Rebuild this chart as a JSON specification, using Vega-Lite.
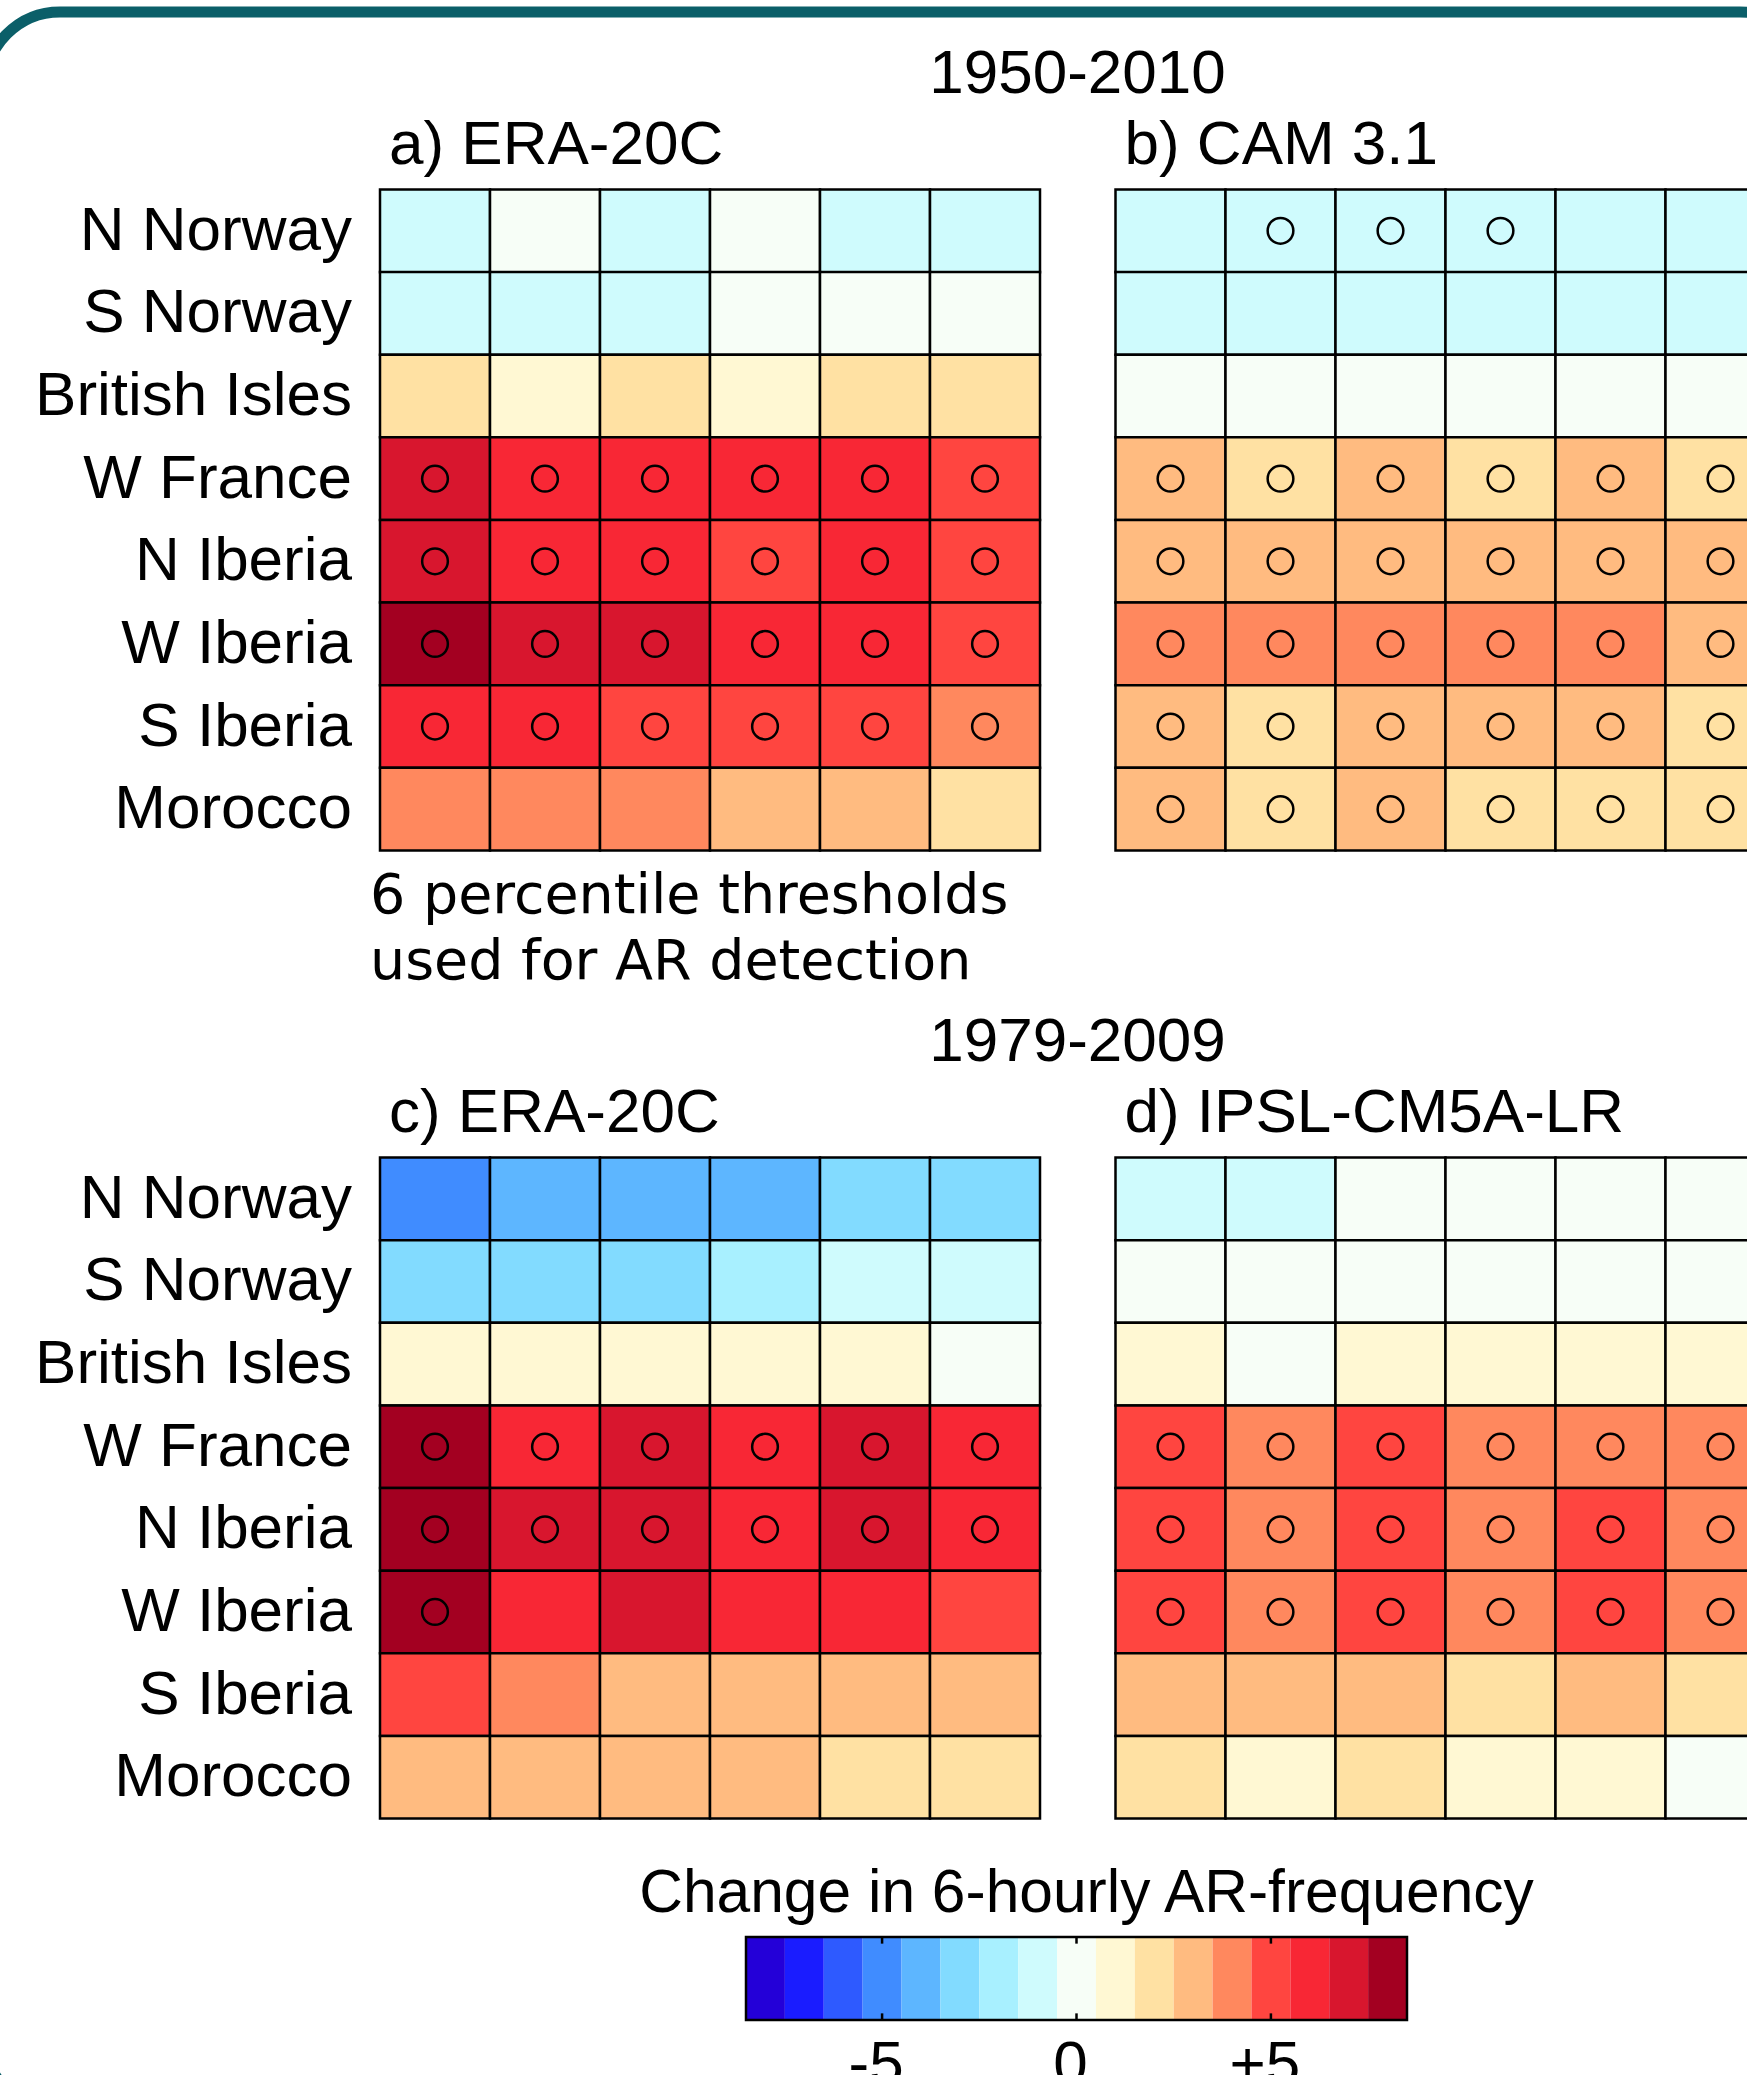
{
  "$schema": "https://vega.github.io/schema/vega-lite/v6.json",
  "width": 1830,
  "height": 2100,
  "autosize": {"type": "none"},
  "padding": {"left": -15, "top": 12, "right": -68, "bottom": -37},
  "background": "white",
  "config": {
    "view": {"stroke": "#0b5f69", "strokeWidth": 11, "cornerRadius": 75, "fill": "white"},
    "font": "Liberation Sans"
  },
  "datasets": {
    "cells": [
      {"period":"1950-2010","source":"reanalysis","region":"N Norway","threshold":1,"value":-1,"sig":false},
      {"period":"1950-2010","source":"reanalysis","region":"N Norway","threshold":2,"value":0,"sig":false},
      {"period":"1950-2010","source":"reanalysis","region":"N Norway","threshold":3,"value":-1,"sig":false},
      {"period":"1950-2010","source":"reanalysis","region":"N Norway","threshold":4,"value":0,"sig":false},
      {"period":"1950-2010","source":"reanalysis","region":"N Norway","threshold":5,"value":-1,"sig":false},
      {"period":"1950-2010","source":"reanalysis","region":"N Norway","threshold":6,"value":-1,"sig":false},
      {"period":"1950-2010","source":"reanalysis","region":"S Norway","threshold":1,"value":-1,"sig":false},
      {"period":"1950-2010","source":"reanalysis","region":"S Norway","threshold":2,"value":-1,"sig":false},
      {"period":"1950-2010","source":"reanalysis","region":"S Norway","threshold":3,"value":-1,"sig":false},
      {"period":"1950-2010","source":"reanalysis","region":"S Norway","threshold":4,"value":0,"sig":false},
      {"period":"1950-2010","source":"reanalysis","region":"S Norway","threshold":5,"value":0,"sig":false},
      {"period":"1950-2010","source":"reanalysis","region":"S Norway","threshold":6,"value":0,"sig":false},
      {"period":"1950-2010","source":"reanalysis","region":"British Isles","threshold":1,"value":2,"sig":false},
      {"period":"1950-2010","source":"reanalysis","region":"British Isles","threshold":2,"value":1,"sig":false},
      {"period":"1950-2010","source":"reanalysis","region":"British Isles","threshold":3,"value":2,"sig":false},
      {"period":"1950-2010","source":"reanalysis","region":"British Isles","threshold":4,"value":1,"sig":false},
      {"period":"1950-2010","source":"reanalysis","region":"British Isles","threshold":5,"value":2,"sig":false},
      {"period":"1950-2010","source":"reanalysis","region":"British Isles","threshold":6,"value":2,"sig":false},
      {"period":"1950-2010","source":"reanalysis","region":"W France","threshold":1,"value":7,"sig":true},
      {"period":"1950-2010","source":"reanalysis","region":"W France","threshold":2,"value":6,"sig":true},
      {"period":"1950-2010","source":"reanalysis","region":"W France","threshold":3,"value":6,"sig":true},
      {"period":"1950-2010","source":"reanalysis","region":"W France","threshold":4,"value":6,"sig":true},
      {"period":"1950-2010","source":"reanalysis","region":"W France","threshold":5,"value":6,"sig":true},
      {"period":"1950-2010","source":"reanalysis","region":"W France","threshold":6,"value":5,"sig":true},
      {"period":"1950-2010","source":"reanalysis","region":"N Iberia","threshold":1,"value":7,"sig":true},
      {"period":"1950-2010","source":"reanalysis","region":"N Iberia","threshold":2,"value":6,"sig":true},
      {"period":"1950-2010","source":"reanalysis","region":"N Iberia","threshold":3,"value":6,"sig":true},
      {"period":"1950-2010","source":"reanalysis","region":"N Iberia","threshold":4,"value":5,"sig":true},
      {"period":"1950-2010","source":"reanalysis","region":"N Iberia","threshold":5,"value":6,"sig":true},
      {"period":"1950-2010","source":"reanalysis","region":"N Iberia","threshold":6,"value":5,"sig":true},
      {"period":"1950-2010","source":"reanalysis","region":"W Iberia","threshold":1,"value":8,"sig":true},
      {"period":"1950-2010","source":"reanalysis","region":"W Iberia","threshold":2,"value":7,"sig":true},
      {"period":"1950-2010","source":"reanalysis","region":"W Iberia","threshold":3,"value":7,"sig":true},
      {"period":"1950-2010","source":"reanalysis","region":"W Iberia","threshold":4,"value":6,"sig":true},
      {"period":"1950-2010","source":"reanalysis","region":"W Iberia","threshold":5,"value":6,"sig":true},
      {"period":"1950-2010","source":"reanalysis","region":"W Iberia","threshold":6,"value":5,"sig":true},
      {"period":"1950-2010","source":"reanalysis","region":"S Iberia","threshold":1,"value":6,"sig":true},
      {"period":"1950-2010","source":"reanalysis","region":"S Iberia","threshold":2,"value":6,"sig":true},
      {"period":"1950-2010","source":"reanalysis","region":"S Iberia","threshold":3,"value":5,"sig":true},
      {"period":"1950-2010","source":"reanalysis","region":"S Iberia","threshold":4,"value":5,"sig":true},
      {"period":"1950-2010","source":"reanalysis","region":"S Iberia","threshold":5,"value":5,"sig":true},
      {"period":"1950-2010","source":"reanalysis","region":"S Iberia","threshold":6,"value":4,"sig":true},
      {"period":"1950-2010","source":"reanalysis","region":"Morocco","threshold":1,"value":4,"sig":false},
      {"period":"1950-2010","source":"reanalysis","region":"Morocco","threshold":2,"value":4,"sig":false},
      {"period":"1950-2010","source":"reanalysis","region":"Morocco","threshold":3,"value":4,"sig":false},
      {"period":"1950-2010","source":"reanalysis","region":"Morocco","threshold":4,"value":3,"sig":false},
      {"period":"1950-2010","source":"reanalysis","region":"Morocco","threshold":5,"value":3,"sig":false},
      {"period":"1950-2010","source":"reanalysis","region":"Morocco","threshold":6,"value":2,"sig":false},

      {"period":"1950-2010","source":"model","region":"N Norway","threshold":1,"value":-1,"sig":false},
      {"period":"1950-2010","source":"model","region":"N Norway","threshold":2,"value":-1,"sig":true},
      {"period":"1950-2010","source":"model","region":"N Norway","threshold":3,"value":-1,"sig":true},
      {"period":"1950-2010","source":"model","region":"N Norway","threshold":4,"value":-1,"sig":true},
      {"period":"1950-2010","source":"model","region":"N Norway","threshold":5,"value":-1,"sig":false},
      {"period":"1950-2010","source":"model","region":"N Norway","threshold":6,"value":-1,"sig":false},
      {"period":"1950-2010","source":"model","region":"S Norway","threshold":1,"value":-1,"sig":false},
      {"period":"1950-2010","source":"model","region":"S Norway","threshold":2,"value":-1,"sig":false},
      {"period":"1950-2010","source":"model","region":"S Norway","threshold":3,"value":-1,"sig":false},
      {"period":"1950-2010","source":"model","region":"S Norway","threshold":4,"value":-1,"sig":false},
      {"period":"1950-2010","source":"model","region":"S Norway","threshold":5,"value":-1,"sig":false},
      {"period":"1950-2010","source":"model","region":"S Norway","threshold":6,"value":-1,"sig":false},
      {"period":"1950-2010","source":"model","region":"British Isles","threshold":1,"value":0,"sig":false},
      {"period":"1950-2010","source":"model","region":"British Isles","threshold":2,"value":0,"sig":false},
      {"period":"1950-2010","source":"model","region":"British Isles","threshold":3,"value":0,"sig":false},
      {"period":"1950-2010","source":"model","region":"British Isles","threshold":4,"value":0,"sig":false},
      {"period":"1950-2010","source":"model","region":"British Isles","threshold":5,"value":0,"sig":false},
      {"period":"1950-2010","source":"model","region":"British Isles","threshold":6,"value":0,"sig":false},
      {"period":"1950-2010","source":"model","region":"W France","threshold":1,"value":3,"sig":true},
      {"period":"1950-2010","source":"model","region":"W France","threshold":2,"value":2,"sig":true},
      {"period":"1950-2010","source":"model","region":"W France","threshold":3,"value":3,"sig":true},
      {"period":"1950-2010","source":"model","region":"W France","threshold":4,"value":2,"sig":true},
      {"period":"1950-2010","source":"model","region":"W France","threshold":5,"value":3,"sig":true},
      {"period":"1950-2010","source":"model","region":"W France","threshold":6,"value":2,"sig":true},
      {"period":"1950-2010","source":"model","region":"N Iberia","threshold":1,"value":3,"sig":true},
      {"period":"1950-2010","source":"model","region":"N Iberia","threshold":2,"value":3,"sig":true},
      {"period":"1950-2010","source":"model","region":"N Iberia","threshold":3,"value":3,"sig":true},
      {"period":"1950-2010","source":"model","region":"N Iberia","threshold":4,"value":3,"sig":true},
      {"period":"1950-2010","source":"model","region":"N Iberia","threshold":5,"value":3,"sig":true},
      {"period":"1950-2010","source":"model","region":"N Iberia","threshold":6,"value":3,"sig":true},
      {"period":"1950-2010","source":"model","region":"W Iberia","threshold":1,"value":4,"sig":true},
      {"period":"1950-2010","source":"model","region":"W Iberia","threshold":2,"value":4,"sig":true},
      {"period":"1950-2010","source":"model","region":"W Iberia","threshold":3,"value":4,"sig":true},
      {"period":"1950-2010","source":"model","region":"W Iberia","threshold":4,"value":4,"sig":true},
      {"period":"1950-2010","source":"model","region":"W Iberia","threshold":5,"value":4,"sig":true},
      {"period":"1950-2010","source":"model","region":"W Iberia","threshold":6,"value":3,"sig":true},
      {"period":"1950-2010","source":"model","region":"S Iberia","threshold":1,"value":3,"sig":true},
      {"period":"1950-2010","source":"model","region":"S Iberia","threshold":2,"value":2,"sig":true},
      {"period":"1950-2010","source":"model","region":"S Iberia","threshold":3,"value":3,"sig":true},
      {"period":"1950-2010","source":"model","region":"S Iberia","threshold":4,"value":3,"sig":true},
      {"period":"1950-2010","source":"model","region":"S Iberia","threshold":5,"value":3,"sig":true},
      {"period":"1950-2010","source":"model","region":"S Iberia","threshold":6,"value":2,"sig":true},
      {"period":"1950-2010","source":"model","region":"Morocco","threshold":1,"value":3,"sig":true},
      {"period":"1950-2010","source":"model","region":"Morocco","threshold":2,"value":2,"sig":true},
      {"period":"1950-2010","source":"model","region":"Morocco","threshold":3,"value":3,"sig":true},
      {"period":"1950-2010","source":"model","region":"Morocco","threshold":4,"value":2,"sig":true},
      {"period":"1950-2010","source":"model","region":"Morocco","threshold":5,"value":2,"sig":true},
      {"period":"1950-2010","source":"model","region":"Morocco","threshold":6,"value":2,"sig":true},

      {"period":"1979-2009","source":"reanalysis","region":"N Norway","threshold":1,"value":-5,"sig":false},
      {"period":"1979-2009","source":"reanalysis","region":"N Norway","threshold":2,"value":-4,"sig":false},
      {"period":"1979-2009","source":"reanalysis","region":"N Norway","threshold":3,"value":-4,"sig":false},
      {"period":"1979-2009","source":"reanalysis","region":"N Norway","threshold":4,"value":-4,"sig":false},
      {"period":"1979-2009","source":"reanalysis","region":"N Norway","threshold":5,"value":-3,"sig":false},
      {"period":"1979-2009","source":"reanalysis","region":"N Norway","threshold":6,"value":-3,"sig":false},
      {"period":"1979-2009","source":"reanalysis","region":"S Norway","threshold":1,"value":-3,"sig":false},
      {"period":"1979-2009","source":"reanalysis","region":"S Norway","threshold":2,"value":-3,"sig":false},
      {"period":"1979-2009","source":"reanalysis","region":"S Norway","threshold":3,"value":-3,"sig":false},
      {"period":"1979-2009","source":"reanalysis","region":"S Norway","threshold":4,"value":-2,"sig":false},
      {"period":"1979-2009","source":"reanalysis","region":"S Norway","threshold":5,"value":-1,"sig":false},
      {"period":"1979-2009","source":"reanalysis","region":"S Norway","threshold":6,"value":-1,"sig":false},
      {"period":"1979-2009","source":"reanalysis","region":"British Isles","threshold":1,"value":1,"sig":false},
      {"period":"1979-2009","source":"reanalysis","region":"British Isles","threshold":2,"value":1,"sig":false},
      {"period":"1979-2009","source":"reanalysis","region":"British Isles","threshold":3,"value":1,"sig":false},
      {"period":"1979-2009","source":"reanalysis","region":"British Isles","threshold":4,"value":1,"sig":false},
      {"period":"1979-2009","source":"reanalysis","region":"British Isles","threshold":5,"value":1,"sig":false},
      {"period":"1979-2009","source":"reanalysis","region":"British Isles","threshold":6,"value":0,"sig":false},
      {"period":"1979-2009","source":"reanalysis","region":"W France","threshold":1,"value":8,"sig":true},
      {"period":"1979-2009","source":"reanalysis","region":"W France","threshold":2,"value":6,"sig":true},
      {"period":"1979-2009","source":"reanalysis","region":"W France","threshold":3,"value":7,"sig":true},
      {"period":"1979-2009","source":"reanalysis","region":"W France","threshold":4,"value":6,"sig":true},
      {"period":"1979-2009","source":"reanalysis","region":"W France","threshold":5,"value":7,"sig":true},
      {"period":"1979-2009","source":"reanalysis","region":"W France","threshold":6,"value":6,"sig":true},
      {"period":"1979-2009","source":"reanalysis","region":"N Iberia","threshold":1,"value":8,"sig":true},
      {"period":"1979-2009","source":"reanalysis","region":"N Iberia","threshold":2,"value":7,"sig":true},
      {"period":"1979-2009","source":"reanalysis","region":"N Iberia","threshold":3,"value":7,"sig":true},
      {"period":"1979-2009","source":"reanalysis","region":"N Iberia","threshold":4,"value":6,"sig":true},
      {"period":"1979-2009","source":"reanalysis","region":"N Iberia","threshold":5,"value":7,"sig":true},
      {"period":"1979-2009","source":"reanalysis","region":"N Iberia","threshold":6,"value":6,"sig":true},
      {"period":"1979-2009","source":"reanalysis","region":"W Iberia","threshold":1,"value":8,"sig":true},
      {"period":"1979-2009","source":"reanalysis","region":"W Iberia","threshold":2,"value":6,"sig":false},
      {"period":"1979-2009","source":"reanalysis","region":"W Iberia","threshold":3,"value":7,"sig":false},
      {"period":"1979-2009","source":"reanalysis","region":"W Iberia","threshold":4,"value":6,"sig":false},
      {"period":"1979-2009","source":"reanalysis","region":"W Iberia","threshold":5,"value":6,"sig":false},
      {"period":"1979-2009","source":"reanalysis","region":"W Iberia","threshold":6,"value":5,"sig":false},
      {"period":"1979-2009","source":"reanalysis","region":"S Iberia","threshold":1,"value":5,"sig":false},
      {"period":"1979-2009","source":"reanalysis","region":"S Iberia","threshold":2,"value":4,"sig":false},
      {"period":"1979-2009","source":"reanalysis","region":"S Iberia","threshold":3,"value":3,"sig":false},
      {"period":"1979-2009","source":"reanalysis","region":"S Iberia","threshold":4,"value":3,"sig":false},
      {"period":"1979-2009","source":"reanalysis","region":"S Iberia","threshold":5,"value":3,"sig":false},
      {"period":"1979-2009","source":"reanalysis","region":"S Iberia","threshold":6,"value":3,"sig":false},
      {"period":"1979-2009","source":"reanalysis","region":"Morocco","threshold":1,"value":3,"sig":false},
      {"period":"1979-2009","source":"reanalysis","region":"Morocco","threshold":2,"value":3,"sig":false},
      {"period":"1979-2009","source":"reanalysis","region":"Morocco","threshold":3,"value":3,"sig":false},
      {"period":"1979-2009","source":"reanalysis","region":"Morocco","threshold":4,"value":3,"sig":false},
      {"period":"1979-2009","source":"reanalysis","region":"Morocco","threshold":5,"value":2,"sig":false},
      {"period":"1979-2009","source":"reanalysis","region":"Morocco","threshold":6,"value":2,"sig":false},

      {"period":"1979-2009","source":"model","region":"N Norway","threshold":1,"value":-1,"sig":false},
      {"period":"1979-2009","source":"model","region":"N Norway","threshold":2,"value":-1,"sig":false},
      {"period":"1979-2009","source":"model","region":"N Norway","threshold":3,"value":0,"sig":false},
      {"period":"1979-2009","source":"model","region":"N Norway","threshold":4,"value":0,"sig":false},
      {"period":"1979-2009","source":"model","region":"N Norway","threshold":5,"value":0,"sig":false},
      {"period":"1979-2009","source":"model","region":"N Norway","threshold":6,"value":0,"sig":false},
      {"period":"1979-2009","source":"model","region":"S Norway","threshold":1,"value":0,"sig":false},
      {"period":"1979-2009","source":"model","region":"S Norway","threshold":2,"value":0,"sig":false},
      {"period":"1979-2009","source":"model","region":"S Norway","threshold":3,"value":0,"sig":false},
      {"period":"1979-2009","source":"model","region":"S Norway","threshold":4,"value":0,"sig":false},
      {"period":"1979-2009","source":"model","region":"S Norway","threshold":5,"value":0,"sig":false},
      {"period":"1979-2009","source":"model","region":"S Norway","threshold":6,"value":0,"sig":false},
      {"period":"1979-2009","source":"model","region":"British Isles","threshold":1,"value":1,"sig":false},
      {"period":"1979-2009","source":"model","region":"British Isles","threshold":2,"value":0,"sig":false},
      {"period":"1979-2009","source":"model","region":"British Isles","threshold":3,"value":1,"sig":false},
      {"period":"1979-2009","source":"model","region":"British Isles","threshold":4,"value":1,"sig":false},
      {"period":"1979-2009","source":"model","region":"British Isles","threshold":5,"value":1,"sig":false},
      {"period":"1979-2009","source":"model","region":"British Isles","threshold":6,"value":1,"sig":false},
      {"period":"1979-2009","source":"model","region":"W France","threshold":1,"value":5,"sig":true},
      {"period":"1979-2009","source":"model","region":"W France","threshold":2,"value":4,"sig":true},
      {"period":"1979-2009","source":"model","region":"W France","threshold":3,"value":5,"sig":true},
      {"period":"1979-2009","source":"model","region":"W France","threshold":4,"value":4,"sig":true},
      {"period":"1979-2009","source":"model","region":"W France","threshold":5,"value":4,"sig":true},
      {"period":"1979-2009","source":"model","region":"W France","threshold":6,"value":4,"sig":true},
      {"period":"1979-2009","source":"model","region":"N Iberia","threshold":1,"value":5,"sig":true},
      {"period":"1979-2009","source":"model","region":"N Iberia","threshold":2,"value":4,"sig":true},
      {"period":"1979-2009","source":"model","region":"N Iberia","threshold":3,"value":5,"sig":true},
      {"period":"1979-2009","source":"model","region":"N Iberia","threshold":4,"value":4,"sig":true},
      {"period":"1979-2009","source":"model","region":"N Iberia","threshold":5,"value":5,"sig":true},
      {"period":"1979-2009","source":"model","region":"N Iberia","threshold":6,"value":4,"sig":true},
      {"period":"1979-2009","source":"model","region":"W Iberia","threshold":1,"value":5,"sig":true},
      {"period":"1979-2009","source":"model","region":"W Iberia","threshold":2,"value":4,"sig":true},
      {"period":"1979-2009","source":"model","region":"W Iberia","threshold":3,"value":5,"sig":true},
      {"period":"1979-2009","source":"model","region":"W Iberia","threshold":4,"value":4,"sig":true},
      {"period":"1979-2009","source":"model","region":"W Iberia","threshold":5,"value":5,"sig":true},
      {"period":"1979-2009","source":"model","region":"W Iberia","threshold":6,"value":4,"sig":true},
      {"period":"1979-2009","source":"model","region":"S Iberia","threshold":1,"value":3,"sig":false},
      {"period":"1979-2009","source":"model","region":"S Iberia","threshold":2,"value":3,"sig":false},
      {"period":"1979-2009","source":"model","region":"S Iberia","threshold":3,"value":3,"sig":false},
      {"period":"1979-2009","source":"model","region":"S Iberia","threshold":4,"value":2,"sig":false},
      {"period":"1979-2009","source":"model","region":"S Iberia","threshold":5,"value":3,"sig":false},
      {"period":"1979-2009","source":"model","region":"S Iberia","threshold":6,"value":2,"sig":false},
      {"period":"1979-2009","source":"model","region":"Morocco","threshold":1,"value":2,"sig":false},
      {"period":"1979-2009","source":"model","region":"Morocco","threshold":2,"value":1,"sig":false},
      {"period":"1979-2009","source":"model","region":"Morocco","threshold":3,"value":2,"sig":false},
      {"period":"1979-2009","source":"model","region":"Morocco","threshold":4,"value":1,"sig":false},
      {"period":"1979-2009","source":"model","region":"Morocco","threshold":5,"value":1,"sig":false},
      {"period":"1979-2009","source":"model","region":"Morocco","threshold":6,"value":0,"sig":false}
    ],
    "panels": [
      {"period":"1950-2010","source":"reanalysis","name":"a) ERA-20C"},
      {"period":"1950-2010","source":"model","name":"b) CAM 3.1"},
      {"period":"1979-2009","source":"reanalysis","name":"c) ERA-20C"},
      {"period":"1979-2009","source":"model","name":"d) IPSL-CM5A-LR"}
    ],
    "periods": [{"period":"1950-2010"},{"period":"1979-2009"}],
    "levels": [
      {"value":-8},{"value":-7},{"value":-6},{"value":-5},{"value":-4},{"value":-3},{"value":-2},{"value":-1},{"value":0},
      {"value":1},{"value":2},{"value":3},{"value":4},{"value":5},{"value":6},{"value":7},{"value":8}
    ],
    "ticks": [{"value":-5,"label":"-5"},{"value":0,"label":"0"},{"value":5,"label":"+5"}],
    "legendtitle": [{"value":0,"title":"Change in 6-hourly AR-frequency"}],
    "legendbox": [{"lo":-8.5,"hi":8.5}]
  },
  "resolve": {"scale": {"x": "independent", "y": "independent"}},
  "layer": [
    {
      "encoding": {
        "x": {"field": "source", "type": "nominal", "axis": null,
              "scale": {"domain": ["reanalysis","model"], "range": [395, 1790.5], "paddingInner": 0.10265, "paddingOuter": 0}},
        "y": {"field": "period", "type": "nominal", "axis": null,
              "scale": {"domain": ["1950-2010","1979-2009"], "range": [177.5, 1806.5], "paddingInner": 0.317149, "paddingOuter": 0}}
      },
      "layer": [
        {
          "data": {"name": "cells"},
          "mark": {"type": "rect", "stroke": "black", "strokeWidth": 2.5},
          "encoding": {
            "xOffset": {"field": "threshold", "type": "ordinal", "scale": {"domain": [1,2,3,4,5,6], "paddingInner": 0, "paddingOuter": 0}},
            "yOffset": {"field": "region", "type": "nominal",
              "scale": {"domain": ["N Norway","S Norway","British Isles","W France","N Iberia","W Iberia","S Iberia","Morocco"], "paddingInner": 0, "paddingOuter": 0}},
            "color": {"field": "value", "type": "quantitative", "legend": null,
              "scale": {"type": "threshold",
                "domain": [-7.5,-6.5,-5.5,-4.5,-3.5,-2.5,-1.5,-0.5,0.5,1.5,2.5,3.5,4.5,5.5,6.5,7.5],
                "range": ["#2400d8","#1a1cff","#2e5aff","#408cff","#5db6ff","#82dbff","#a8f0ff","#cffbfd","#f7fef7","#fff8d3","#ffe1a3","#ffbb80","#ff885e","#ff4540","#f82735","#d8162e","#a30021"]}}
          }
        },
        {
          "data": {"name": "cells"},
          "transform": [{"filter": "datum.sig"}],
          "mark": {"type": "point", "shape": "circle", "filled": false, "stroke": "black", "strokeWidth": 2.5, "size": 660, "opacity": 1},
          "encoding": {
            "xOffset": {"field": "threshold", "type": "ordinal"},
            "yOffset": {"field": "region", "type": "nominal"}
          }
        },
        {
          "data": {"name": "cells"},
          "transform": [{"filter": "datum.threshold == 1 && datum.source == 'reanalysis'"}],
          "mark": {"type": "text", "align": "right", "baseline": "middle", "fontSize": 62, "dx": -28, "color": "black"},
          "encoding": {
            "x": {"datum": "reanalysis", "type": "nominal", "bandPosition": 0},
            "yOffset": {"field": "region", "type": "nominal"},
            "text": {"field": "region"}
          }
        },
        {
          "data": {"name": "panels"},
          "mark": {"type": "text", "align": "left", "baseline": "alphabetic", "fontSize": 62, "dx": 9, "dy": -26, "color": "black"},
          "encoding": {
            "x": {"field": "source", "type": "nominal", "bandPosition": 0},
            "y": {"field": "period", "type": "nominal", "bandPosition": 0},
            "text": {"field": "name"}
          }
        },
        {
          "data": {"name": "periods"},
          "mark": {"type": "text", "align": "center", "baseline": "alphabetic", "fontSize": 62, "dx": 37.5, "dy": -97, "color": "black"},
          "encoding": {
            "x": {"datum": "reanalysis", "type": "nominal", "bandPosition": 1},
            "y": {"field": "period", "type": "nominal", "bandPosition": 0},
            "text": {"field": "period"}
          }
        },
        {
          "data": {"values": [{"note": "6 percentile thresholds"}]},
          "mark": {"type": "text", "align": "left", "baseline": "alphabetic", "font": "DejaVu Sans", "fontSize": 55.5, "lineHeight": 66, "dx": -10, "dy": 63, "color": "black",
                   "text": ["6 percentile thresholds", "used for AR detection"]},
          "encoding": {
            "x": {"datum": "reanalysis", "type": "nominal", "bandPosition": 0},
            "y": {"datum": "1950-2010", "type": "nominal", "bandPosition": 1}
          }
        }
      ]
    },
    {
      "layer": [
        {
          "data": {"name": "levels"},
          "transform": [{"bin": {"extent": [-8.5, 8.5], "step": 1, "anchor": 0.5, "nice": false}, "field": "value", "as": ["lo", "hi"]}],
          "mark": {"type": "rect"},
          "encoding": {
            "x": {"field": "lo", "type": "quantitative", "axis": null,
                  "scale": {"domain": [-8.5, 8.5], "range": [761, 1422], "nice": false, "zero": false}},
            "x2": {"field": "hi"},
            "y": {"datum": 0, "type": "quantitative", "axis": null,
                  "scale": {"domain": [0, 1], "range": [1925, 2008], "nice": false, "zero": false}},
            "y2": {"datum": 1},
            "color": {"field": "value", "type": "quantitative", "legend": null,
              "scale": {"type": "threshold",
                "domain": [-7.5,-6.5,-5.5,-4.5,-3.5,-2.5,-1.5,-0.5,0.5,1.5,2.5,3.5,4.5,5.5,6.5,7.5],
                "range": ["#2400d8","#1a1cff","#2e5aff","#408cff","#5db6ff","#82dbff","#a8f0ff","#cffbfd","#f7fef7","#fff8d3","#ffe1a3","#ffbb80","#ff885e","#ff4540","#f82735","#d8162e","#a30021"]}}
          }
        },
        {
          "data": {"name": "legendbox"},
          "mark": {"type": "rect", "fill": "transparent", "stroke": "black", "strokeWidth": 2.5},
          "encoding": {
            "x": {"field": "lo", "type": "quantitative", "axis": null,
                  "scale": {"domain": [-8.5, 8.5], "range": [761, 1422], "nice": false, "zero": false}},
            "x2": {"field": "hi"},
            "y": {"datum": 0, "type": "quantitative", "axis": null,
                  "scale": {"domain": [0, 1], "range": [1925, 2008], "nice": false, "zero": false}},
            "y2": {"datum": 1}
          }
        },
        {
          "data": {"name": "ticks"},
          "mark": {"type": "rule", "stroke": "black", "strokeWidth": 2.5},
          "encoding": {
            "x": {"field": "value", "type": "quantitative", "axis": null,
                  "scale": {"domain": [-8.5, 8.5], "range": [761, 1422], "nice": false, "zero": false}},
            "y": {"datum": 0, "type": "quantitative", "axis": null,
                  "scale": {"domain": [0, 1], "range": [1925, 2008], "nice": false, "zero": false}},
            "y2": {"datum": 0.08}
          }
        },
        {
          "data": {"name": "ticks"},
          "mark": {"type": "rule", "stroke": "black", "strokeWidth": 2.5},
          "encoding": {
            "x": {"field": "value", "type": "quantitative", "axis": null,
                  "scale": {"domain": [-8.5, 8.5], "range": [761, 1422], "nice": false, "zero": false}},
            "y": {"datum": 0.92, "type": "quantitative", "axis": null,
                  "scale": {"domain": [0, 1], "range": [1925, 2008], "nice": false, "zero": false}},
            "y2": {"datum": 1}
          }
        },
        {
          "data": {"name": "ticks"},
          "mark": {"type": "text", "align": "center", "baseline": "alphabetic", "fontSize": 62, "dx": -6, "dy": 64, "color": "black"},
          "encoding": {
            "x": {"field": "value", "type": "quantitative", "axis": null,
                  "scale": {"domain": [-8.5, 8.5], "range": [761, 1422], "nice": false, "zero": false}},
            "y": {"datum": 1, "type": "quantitative", "axis": null,
                  "scale": {"domain": [0, 1], "range": [1925, 2008], "nice": false, "zero": false}},
            "text": {"field": "label"}
          }
        },
        {
          "data": {"name": "legendtitle"},
          "mark": {"type": "text", "align": "center", "baseline": "alphabetic", "fontSize": 60.5, "dx": 10, "dy": -25, "color": "black"},
          "encoding": {
            "x": {"field": "value", "type": "quantitative", "axis": null,
                  "scale": {"domain": [-8.5, 8.5], "range": [761, 1422], "nice": false, "zero": false}},
            "y": {"datum": 0, "type": "quantitative", "axis": null,
                  "scale": {"domain": [0, 1], "range": [1925, 2008], "nice": false, "zero": false}},
            "text": {"field": "title"}
          }
        }
      ]
    }
  ]
}
